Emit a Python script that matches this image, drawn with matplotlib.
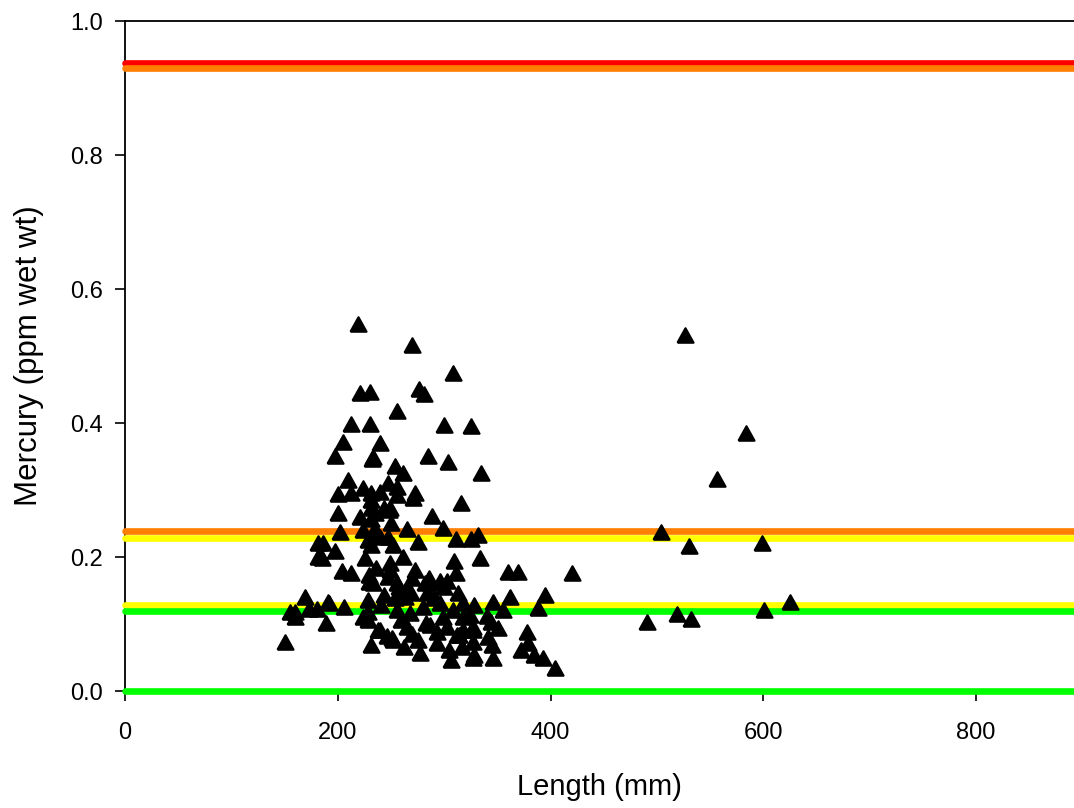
import numpy as np
import matplotlib.pyplot as plt
from matplotlib.markers import MarkerStyle

plt.rcParams['font.family'] = ['Liberation Sans', 'DejaVu Sans']

# fish length (mm) and mercury (ppm wet wt)
length = [
    150, 155, 160, 160, 169, 173, 180, 181, 181, 185, 186, 189, 192, 197, 200, 200,
    202, 205, 197, 210, 206, 191, 204, 212, 212, 219, 221, 230, 230, 240, 233, 232,
    224, 231, 240, 247, 256, 256, 273, 271, 231, 243, 249, 221, 231, 289, 250, 224,
    237, 247, 265, 299, 311, 325, 332, 275, 231, 252, 226, 261, 309, 334, 249, 249,
    247, 273, 270, 360, 369, 420, 311, 229, 233, 287, 296, 303, 228, 254, 263, 362,
    395, 346, 355, 388, 318, 328, 228, 228, 378, 379, 372, 384, 393, 404, 231, 238,
    251, 262, 277, 306, 327, 346, 270, 308, 276, 281, 256, 300, 325, 285, 304, 335,
    254, 261, 316, 526, 584, 556, 504, 530, 599, 625, 601, 519, 532, 491, 340, 344,
    351, 327, 327, 328, 345, 231, 233, 228, 240, 229, 286, 256, 282, 243, 269, 284,
    290, 313, 318, 224, 256, 268, 280, 299, 308, 324, 240, 259, 265, 287, 293, 303,
    318, 327, 252, 275, 293, 305, 317, 212, 235, 248, 258, 265, 296, 314, 264, 246,
    283, 300, 270, 241, 236, 290, 341, 312,
]
mercury = [
    0.073, 0.118, 0.118, 0.110, 0.140, 0.122, 0.122, 0.221, 0.200, 0.199, 0.221, 0.101,
    0.131, 0.209, 0.294, 0.266, 0.237, 0.372, 0.351, 0.315, 0.125, 0.133, 0.179, 0.176,
    0.398, 0.548, 0.445, 0.446, 0.399, 0.370, 0.349, 0.346, 0.303, 0.296, 0.297, 0.310,
    0.304, 0.293, 0.296, 0.288, 0.273, 0.273, 0.273, 0.260, 0.257, 0.261, 0.251, 0.240,
    0.236, 0.230, 0.242, 0.243, 0.227, 0.227, 0.233, 0.222, 0.218, 0.218, 0.199, 0.200,
    0.194, 0.199, 0.191, 0.181, 0.170, 0.181, 0.169, 0.178, 0.178, 0.176, 0.176, 0.163,
    0.161, 0.161, 0.164, 0.164, 0.136, 0.139, 0.140, 0.140, 0.143, 0.133, 0.121, 0.124,
    0.131, 0.128, 0.118, 0.106, 0.088, 0.072, 0.061, 0.054, 0.049, 0.034, 0.069, 0.091,
    0.079, 0.066, 0.057, 0.046, 0.049, 0.049, 0.516, 0.474, 0.451, 0.443, 0.418, 0.397,
    0.396, 0.351, 0.342, 0.325, 0.336, 0.325, 0.281, 0.531, 0.385, 0.316, 0.237, 0.216,
    0.221, 0.133, 0.121, 0.115, 0.107, 0.103, 0.112, 0.103, 0.094, 0.091, 0.073, 0.054,
    0.069, 0.285, 0.237, 0.225, 0.230, 0.173, 0.169, 0.161, 0.161, 0.143, 0.146, 0.146,
    0.139, 0.146, 0.110, 0.110, 0.121, 0.116, 0.125, 0.110, 0.121, 0.113, 0.091, 0.106,
    0.096, 0.099, 0.088, 0.096, 0.091, 0.096, 0.076, 0.076, 0.072, 0.061, 0.066, 0.296,
    0.266, 0.270, 0.155, 0.150, 0.132, 0.084, 0.150, 0.082, 0.102, 0.155, 0.085, 0.128,
    0.184, 0.140, 0.080, 0.083,
]

# advisory levels and their colours, top to bottom
levels = [0.938, 0.930, 0.239, 0.229, 0.128, 0.119, 0.0]
level_colors = ['#ff0000', '#ff8000', '#ff8000', '#ffff00', '#ffff00', '#00ff00', '#00ff00']

xmax = 892

fig = plt.figure(figsize=(10.74, 8.08), dpi=100)
ax = fig.add_axes([125 / 1074, 117 / 808, 1 - 125 / 1074, 670 / 808])

for val, col in zip(levels, level_colors):
    ax.plot([0, xmax * 1.05], [val, val], color=col, linewidth=4.8,
            solid_capstyle='round', clip_on=False, zorder=3)

# slightly squat triangle with rounded corners
tri = MarkerStyle([(-1, -0.9), (1, -0.9), (0, 0.9), (-1, -0.9)], joinstyle='round')
ax.plot(length, mercury, linestyle='none', marker=tri, markersize=11.5,
        color='black', markeredgecolor='black', markeredgewidth=1.6,
        zorder=4, clip_on=False)

ax.set_xlim(0, xmax)
ax.set_ylim(0, 1.0)
ax.set_xticks([0, 200, 400, 600, 800])
ax.set_yticks([0.0, 0.2, 0.4, 0.6, 0.8, 1.0])
ax.set_yticklabels(['0.0', '0.2', '0.4', '0.6', '0.8', '1.0'])
ax.tick_params(axis='both', direction='out', length=7, width=1.2,
               labelsize=17, colors='black')
ax.tick_params(axis='x', pad=15)
ax.tick_params(axis='y', pad=9)

ax.spines['right'].set_visible(False)
ax.spines['bottom'].set_visible(False)
for s in ['left', 'top']:
    ax.spines[s].set_linewidth(1.3)

ax.set_xlabel('Length (mm)', fontsize=21, labelpad=21)
ax.set_ylabel('Mercury (ppm wet wt)', fontsize=22.5, labelpad=19)

fig.savefig('out.png', dpi=100)
